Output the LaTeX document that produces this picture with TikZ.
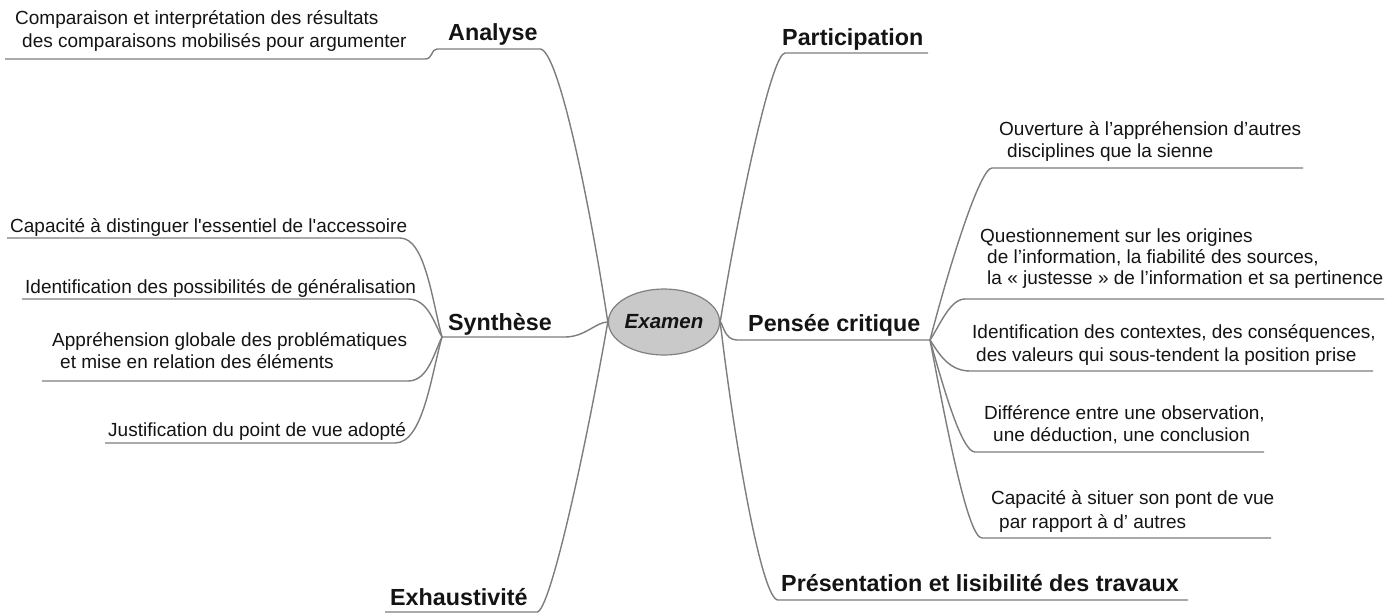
\documentclass[tikz,border=0pt]{standalone}
\usepackage{fontspec}
\newfontfamily\af{Liberation Sans}
\usetikzlibrary{shapes.geometric}
\definecolor{linec}{RGB}{125,125,125}
\definecolor{ellfill}{RGB}{201,201,201}
\definecolor{elldraw}{RGB}{128,128,128}
\definecolor{txtc}{RGB}{20,20,20}
\begin{document}
\begin{tikzpicture}[x=1pt,y=-1pt,
  br/.style={draw=linec, line width=1.4pt},
  lbl/.style={anchor=base west, inner sep=0, text=txtc, font=\af\bfseries\fontsize{23.3}{26}\selectfont},
  txt/.style={anchor=base west, inner sep=0, text=txtc, font=\af\fontsize{19}{22}\selectfont},
  center/.style={ellipse, draw=elldraw, fill=ellfill, line width=1.2pt, minimum width=100pt, minimum height=66pt, inner sep=0, text=txtc, font=\af\bfseries\itshape\fontsize{20.5}{24}\selectfont}
]
\fill[white] (0,0) rectangle (1392,614);
\useasboundingbox (0,0) rectangle (1392,614);

\node[center] (ex) at (664,322) {Examen};

% main branch points
\coordinate (anC) at (540,49);  \coordinate (anL) at (437,49);
\coordinate (syC) at (565,337); \coordinate (syL) at (442,337);
\coordinate (exC) at (537,612); \coordinate (exL) at (385,612);
\coordinate (paC) at (785,53);  \coordinate (paR) at (928,53);
\coordinate (peC) at (737,340); \coordinate (peR) at (930,340);
\coordinate (prC) at (778,600); \coordinate (prR) at (1188,600);

\draw[br] (ex.west) .. controls (589,199) and (558,49) .. (anC) -- (anL);
\draw[br] (ex.west) .. controls (596,322) and (585,337) .. (syC) -- (syL);
\draw[br] (ex.west) .. controls (585,452) and (550,612) .. (exC) -- (exL);
\draw[br] (ex.east) .. controls (740,201) and (772,53) .. (paC) -- (paR);
\draw[br] (ex.east) .. controls (723,323) and (724,340) .. (peC) -- (peR);
\draw[br] (ex.east) .. controls (735,447) and (762,600) .. (prC) -- (prR);

% children of Analyse
\coordinate (coC) at (425,59); \coordinate (coL) at (5,59);
\draw[br] (anL) .. controls (431,49) and (433,59) .. (coC) -- (coL);

% children of Synthese
\coordinate (caC) at (400,238); \coordinate (caL) at (7,238);
\coordinate (idC) at (408,299); \coordinate (idL) at (22,299);
\coordinate (apC) at (408,381); \coordinate (apL) at (42,381);
\coordinate (juC) at (395,443); \coordinate (juL) at (105,443);
\draw[br] (syL) .. controls (432,300) and (425,238) .. (caC) -- (caL);
\draw[br] (syL) .. controls (434,323) and (428,299) .. (idC) -- (idL);
\draw[br] (syL) .. controls (434,353) and (428,381) .. (apC) -- (apL);
\draw[br] (syL) .. controls (431,376) and (423,443) .. (juC) -- (juL);

% children of Pensee critique
\coordinate (ouC) at (992,168);  \coordinate (ouR) at (1303,168);
\coordinate (quC) at (965,299);  \coordinate (quR) at (1384,299);
\coordinate (icC) at (970,371);  \coordinate (icR) at (1373,371);
\coordinate (dfC) at (975,452);  \coordinate (dfR) at (1264,452);
\coordinate (csC) at (982,538);  \coordinate (csR) at (1271,538);
\draw[br] (peR) .. controls (950,263) and (980,168) .. (ouC) -- (ouR);
\draw[br] (peR) .. controls (940,325) and (950,299) .. (quC) -- (quR);
\draw[br] (peR) .. controls (938,352) and (948,371) .. (icC) -- (icR);
\draw[br] (peR) .. controls (944,390) and (962,452) .. (dfC) -- (dfR);
\draw[br] (peR) .. controls (947,429) and (968,538) .. (csC) -- (csR);

% labels
\node[lbl] (tAn) at (448,40) {Analyse};
\node[txt] (tCo1) at (15,24) {Comparaison et interprétation des résultats};
\node[txt] (tCo2) at (22,47) {des comparaisons mobilisés pour argumenter};
\node[lbl] (tSy) at (448,330) {Synthèse};
\node[txt] (tCa) at (10,232) {Capacité à distinguer l'essentiel de l'accessoire};
\node[txt] (tId) at (25,293) {Identification des possibilités de généralisation};
\node[txt] (tAp1) at (52,346) {Appréhension globale des problématiques};
\node[txt] (tAp2) at (60,368) {et mise en relation des éléments};
\node[txt] (tJu) at (108,436) {Justification du point de vue adopté};
\node[lbl] (tEx) at (390,605) {Exhaustivité};
\node[lbl] (tPa) at (782,45) {Participation};
\node[lbl] (tPe) at (748,331) {Pensée critique};
\node[lbl] (tPr) at (781,591) {Présentation et lisibilité des travaux};
\node[txt] (tOu1) at (999,135) {Ouverture à l’appréhension d’autres};
\node[txt] (tOu2) at (1007,157) {disciplines que la sienne};
\node[txt] (tQu1) at (980,242) {Questionnement sur les origines};
\node[txt] (tQu2) at (987,263) {de l’information, la fiabilité des sources,};
\node[txt] (tQu3) at (987,284) {la « justesse » de l’information et sa pertinence};
\node[txt] (tIc1) at (972,338) {Identification des contextes, des conséquences,};
\node[txt] (tIc2) at (976,361) {des valeurs qui sous-tendent la position prise};
\node[txt] (tDf1) at (984,419) {Différence entre une observation,};
\node[txt] (tDf2) at (993,441) {une déduction, une conclusion};
\node[txt] (tCs1) at (991,504) {Capacité à situer son pont de vue};
\node[txt] (tCs2) at (999,528) {par rapport à d’ autres};
\end{tikzpicture}
\end{document}
